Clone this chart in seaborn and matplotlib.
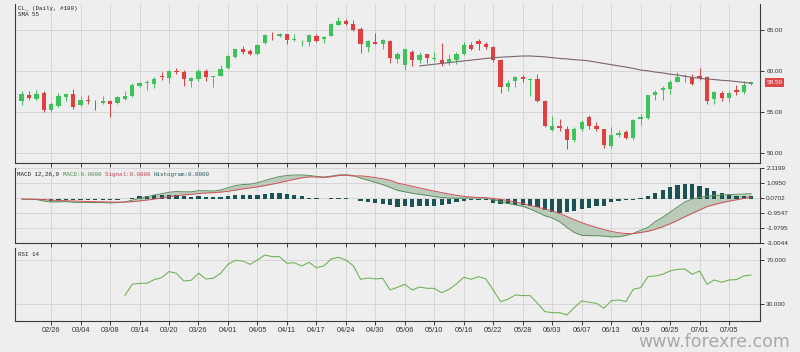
import seaborn as sns
import matplotlib.pyplot as plt
import numpy as np
import pandas as pd

# 1. DATA (one bar per trading day, 100 bars)
tick_dates = ['02/26', '03/04', '03/08', '03/14', '03/20', '03/26', '04/01', '04/05',
              '04/11', '04/17', '04/24', '04/30', '05/06', '05/10', '05/16', '05/22',
              '05/28', '06/03', '06/07', '06/13', '06/19', '06/25', '07/01', '07/05']

opens = [56.3, 57.1, 56.6, 57.3, 55.3, 55.8, 56.8, 57.2, 55.9, 56.5,
         56.4, 56.1, 56.4, 56.1, 56.6, 56.9, 58.2, 58.5, 58.4, 59.4,
         59.1, 60.0, 59.9, 58.8, 59.0, 60.0, 59.3, 59.4, 60.3, 61.7,
         62.6, 62.4, 62.0, 63.4, 64.4, 64.2, 64.5, 63.7, 63.6, 63.5,
         64.2, 63.8, 64.2, 65.6, 66.1, 65.7, 65.1, 62.9, 63.5, 63.3,
         63.6, 61.4, 60.7, 62.3, 61.3, 62.0, 61.4, 61.3, 60.9, 61.3,
         62.0, 63.1, 63.6, 63.3, 62.9, 61.3, 58.1, 58.8, 59.2, 58.9,
         59.0, 56.4, 52.8, 53.3, 52.9, 51.6, 52.9, 54.4, 53.3, 53.0,
         50.9, 52.2, 52.6, 51.9, 54.2, 54.3, 57.1, 57.7, 57.8, 58.7,
         59.2, 59.3, 59.4, 59.2, 56.6, 57.3, 56.7, 57.7, 57.4, 58.4]
highs = [57.6, 57.6, 57.7, 57.6, 56.2, 57.3, 57.3, 57.8, 57.0, 57.1,
         56.5, 56.9, 56.5, 56.9, 57.5, 58.5, 58.7, 58.9, 59.2, 59.8,
         60.1, 60.3, 60.1, 59.3, 60.2, 60.2, 59.4, 60.7, 61.9, 62.7,
         63.0, 62.7, 63.3, 64.5, 64.7, 64.6, 64.5, 64.5, 63.7, 64.5,
         64.5, 64.2, 65.8, 66.5, 66.3, 66.2, 65.3, 63.7, 64.6, 63.8,
         63.7, 62.3, 62.7, 62.5, 62.3, 62.1, 62.3, 63.4, 62.1, 62.3,
         63.5, 63.5, 63.9, 63.5, 63.0, 61.4, 58.9, 59.4, 59.5, 59.1,
         59.6, 56.5, 54.5, 54.2, 53.3, 53.2, 54.1, 54.6, 53.8, 53.0,
         53.2, 52.8, 52.8, 54.2, 54.8, 57.1, 57.7, 58.2, 58.9, 59.9,
         59.6, 59.6, 60.3, 59.4, 57.5, 57.5, 57.6, 58.3, 58.8, 58.8]
lows = [55.9, 56.5, 56.5, 55.0, 55.0, 55.6, 56.4, 55.4, 55.7, 56.0,
        55.3, 56.0, 54.4, 56.0, 56.5, 56.8, 58.0, 57.7, 57.9, 58.9,
        58.5, 59.6, 58.2, 58.1, 58.8, 58.8, 58.1, 59.4, 60.2, 61.5,
        62.0, 61.9, 61.9, 63.2, 63.7, 64.1, 63.2, 63.6, 63.0, 63.0,
        63.5, 63.4, 64.2, 65.5, 65.6, 64.8, 62.2, 62.3, 63.2, 62.7,
        60.9, 61.0, 60.1, 60.6, 60.9, 60.9, 61.2, 60.6, 60.7, 60.8,
        61.9, 62.5, 62.5, 62.7, 61.1, 57.3, 57.5, 58.1, 58.7, 56.9,
        56.2, 53.2, 52.7, 52.7, 50.5, 51.4, 52.7, 52.9, 52.7, 50.7,
        50.7, 52.0, 51.7, 51.6, 53.4, 54.2, 56.5, 56.5, 57.2, 58.6,
        58.6, 58.3, 58.9, 56.0, 56.0, 56.4, 56.2, 57.1, 57.2, 58.3]
closes = [57.2, 56.7, 57.2, 55.2, 56.0, 56.9, 57.2, 55.6, 56.5, 56.3,
          56.3, 56.4, 56.0, 56.8, 57.0, 58.3, 58.5, 58.6, 59.0, 59.2,
          60.0, 59.8, 59.0, 59.1, 60.0, 59.2, 59.4, 60.2, 61.8, 62.6,
          62.3, 62.1, 63.1, 64.4, 64.3, 64.5, 63.7, 63.9, 63.65, 64.3,
          63.6, 64.1, 65.7, 66.1, 65.7, 65.0, 63.3, 63.6, 63.3, 63.7,
          61.5, 62.0, 62.6, 61.3, 61.9, 61.5, 61.5, 60.8, 61.4, 62.1,
          63.1, 62.7, 63.3, 62.9, 61.3, 58.1, 58.5, 59.2, 59.0, 59.0,
          56.3, 53.3, 53.3, 53.1, 51.6, 53.0, 53.8, 53.3, 52.9, 51.0,
          52.2, 52.5, 51.9, 54.0, 54.4, 57.1, 57.4, 57.9, 58.7, 59.2,
          59.4, 58.4, 59.1, 56.3, 57.4, 56.7, 57.3, 57.4, 58.3, 58.59]

# SMA 55, defined from bar 54 onwards
sma55 = [60.6, 60.7, 60.8, 60.9, 61.0, 61.1, 61.2, 61.3, 61.4, 61.5,
         61.6, 61.65, 61.7, 61.75, 61.8, 61.8, 61.75, 61.7, 61.6, 61.5,
         61.45, 61.35, 61.3, 61.2, 61.05, 60.9, 60.75, 60.6, 60.45, 60.3,
         60.1, 60.0, 59.85, 59.75, 59.6, 59.5, 59.35, 59.2, 59.1, 59.0,
         58.95, 58.85, 58.8, 58.7, 58.6, 58.5]

macd = [0.0, -0.02, -0.03, -0.13, -0.2, -0.19, -0.17, -0.22, -0.23, -0.23,
        -0.24, -0.24, -0.26, -0.24, -0.2, -0.08, 0.05, 0.15, 0.28, 0.37,
        0.47, 0.52, 0.5, 0.5, 0.58, 0.57, 0.55, 0.62, 0.78, 0.93,
        1.0, 1.03, 1.12, 1.28, 1.42, 1.55, 1.62, 1.66, 1.66, 1.63,
        1.56, 1.52, 1.58, 1.66, 1.68, 1.62, 1.45, 1.3, 1.15, 1.0,
        0.8, 0.6, 0.5, 0.4, 0.33, 0.25, 0.18, 0.1, 0.07, 0.05,
        0.06, 0.07, 0.08, 0.07, -0.05, -0.18, -0.3, -0.4, -0.5, -0.68,
        -0.9, -1.15, -1.3, -1.55, -1.95, -2.3, -2.5, -2.52, -2.52, -2.55,
        -2.6, -2.6, -2.5, -2.36, -2.15, -1.95, -1.55, -1.25, -0.9, -0.55,
        -0.2, 0.0, 0.12, 0.2, 0.25, 0.28, 0.31, 0.33, 0.35, 0.38]
signal = [0.0, -0.005, -0.01, -0.04, -0.07, -0.1, -0.11, -0.13, -0.15, -0.17,
          -0.18, -0.19, -0.2, -0.21, -0.21, -0.18, -0.13, -0.07, 0.0, 0.08,
          0.16, 0.23, 0.29, 0.33, 0.38, 0.42, 0.44, 0.48, 0.54, 0.62,
          0.7, 0.77, 0.84, 0.93, 1.03, 1.13, 1.25, 1.36, 1.46, 1.53,
          1.52, 1.49, 1.54, 1.62, 1.64, 1.59, 1.6, 1.55, 1.48, 1.4,
          1.3, 1.1, 1.0, 0.88, 0.77, 0.65, 0.55, 0.45, 0.35, 0.26,
          0.19, 0.14, 0.11, 0.09, 0.05, -0.02, -0.1, -0.2, -0.3, -0.45,
          -0.55, -0.68, -0.82, -1.0, -1.2, -1.42, -1.62, -1.8, -1.95, -2.1,
          -2.22, -2.32, -2.37, -2.38, -2.3, -2.22, -2.08, -1.9, -1.7, -1.47,
          -1.22, -0.98, -0.75, -0.52, -0.38, -0.25, -0.14, -0.05, 0.05, 0.12]
hist = [0.0, -0.02, -0.03, -0.09, -0.13, -0.09, -0.06, -0.08, -0.07, -0.06,
        -0.06, -0.05, -0.06, -0.04, 0.03, 0.1, 0.18, 0.22, 0.28, 0.29,
        0.31, 0.29, 0.21, 0.17, 0.2, 0.15, 0.11, 0.14, 0.2, 0.27,
        0.3, 0.27, 0.3, 0.37, 0.39, 0.4, 0.37, 0.3, 0.2, 0.1,
        0.04, 0.03, 0.04, 0.04, 0.04, 0.03, -0.12, -0.18, -0.3, -0.35,
        -0.43, -0.52, -0.5, -0.52, -0.5, -0.48, -0.45, -0.42, -0.32, -0.22,
        -0.12, -0.07, -0.04, -0.03, -0.3, -0.35, -0.35, -0.38, -0.42, -0.45,
        -0.55, -0.75, -0.9, -0.95, -0.92, -0.8, -0.7, -0.6, -0.5, -0.45,
        -0.2, -0.12, -0.07, -0.03, 0.06, 0.2, 0.4, 0.6, 0.8, 0.95,
        1.05, 1.02, 0.92, 0.75, 0.55, 0.4, 0.28, 0.22, 0.2, 0.22]

# RSI 14, defined from bar 14 onwards
rsi14 = [37.8, 47.9, 48.8, 48.8, 52.1, 53.9, 59.3, 57.8, 50.9, 51.5,
         57.8, 52.7, 53.3, 57.8, 65.8, 69.4, 68.8, 65.8, 69.7, 74.2,
         72.7, 72.7, 66.7, 67.3, 64.3, 67.6, 62.8, 64.3, 70.6, 72.1,
         69.7, 64.6, 52.4, 53.6, 52.7, 53.3, 42.8, 45.2,
         47.9, 42.8, 45.5, 44.3, 44.3, 40.4, 43.4, 48.2, 54.2, 52.4,
         54.8, 52.7, 42.8, 32.4, 34.5, 38.4, 37.8, 37.8, 30.9, 23.4,
         22.5, 22.5, 20.4, 27.0, 33.0, 31.8, 30.9, 26.4, 33.0, 33.9,
         32.4, 43.4, 44.9, 54.8, 55.4, 56.9, 59.9, 61.3, 61.6, 56.9,
         59.9, 47.9, 51.8, 49.7, 51.8, 52.1, 55.4, 56.3]

price_ticks = [50, 55, 60, 65]
macd_ticks = [2.1199, 1.0950, 0.0702, -0.9547, -1.9795, -3.0044]
rsi_ticks = [30, 70]

bars = np.arange(len(closes))
df = pd.DataFrame({'open': opens, 'high': highs, 'low': lows, 'close': closes}, index=bars)

# 2. STYLE
sns.set_theme(style="whitegrid")
plt.rcParams['font.family'] = ['Liberation Sans', 'DejaVu Sans']
BG = '#eeeeee'
GRID = '#d6d6d6'
SPINE = '#3a3a3a'
UP = '#3fc25a'
DOWN = '#e2403f'
MONO = 'Liberation Mono'

fig = plt.figure(figsize=(8, 3.52), dpi=100, facecolor=BG)
ax_p = fig.add_axes([0.01875, 0.5369, 0.93125, 0.4517])
ax_m = fig.add_axes([0.01875, 0.3105, 0.93125, 0.2114])
ax_r = fig.add_axes([0.01875, 0.0881, 0.93125, 0.2065])
xticks = list(range(4, 100, 4))

for ax in (ax_p, ax_m, ax_r):
    ax.set_facecolor(BG)
    ax.set_xlim(-0.9, 100.2)
    ax.grid(True, color=GRID, linewidth=0.7)
    ax.set_axisbelow(True)
    for s in ('left', 'bottom', 'right'):
        ax.spines[s].set_visible(True)
        ax.spines[s].set_color(SPINE)
        ax.spines[s].set_linewidth(0.8)
    ax.spines['top'].set_visible(False)
    ax.yaxis.tick_right()
    ax.set_xticks(xticks)
    ax.tick_params(axis='both', direction='out', length=3, width=0.7, color=SPINE,
                   labelsize=4.6, labelcolor='#333333', pad=1.5)
    ax.tick_params(axis='x', bottom=True, labelbottom=False)
    ax.tick_params(axis='y', right=True, left=False)

# 3. PRICE PANEL (candles + SMA 55)
up = df['close'] >= df['open']
colors = np.where(up, UP, DOWN)
body_lo = df[['open', 'close']].min(axis=1)
body_h = (df['close'] - df['open']).abs().clip(lower=0.07)
ax_p.vlines(bars, df['low'], df['high'], colors=colors, linewidth=0.7, zorder=2)
ax_p.bar(bars, body_h, bottom=body_lo, width=0.58, color=colors, linewidth=0, zorder=3)
sns.lineplot(x=bars[54:], y=sma55, ax=ax_p, color='#7b6570', linewidth=0.8, zorder=4)
ax_p.set_ylim(48.83, 68.1)
ax_p.set_yticks(price_ticks)
ax_p.set_yticklabels([f'{v:.2f}' for v in price_ticks])
ax_p.text(1.0085, closes[-1], f'{closes[-1]:.2f}', transform=ax_p.get_yaxis_transform(),
          fontsize=4.6, color='white', va='center', ha='left',
          bbox=dict(boxstyle='square,pad=0.25', fc='#e04848', ec='none'))
ax_p.text(0.004, 0.972, 'CL_ (Daily, #100)', transform=ax_p.transAxes,
          fontsize=4.2, family=MONO, color='#222222', va='center')
ax_p.text(0.004, 0.931, 'SMA 55', transform=ax_p.transAxes,
          fontsize=4.2, family=MONO, color='#222222', va='center')

# 4. MACD PANEL
ax_m.fill_between(bars, macd, signal, color='#b8cab8', alpha=0.95, linewidth=0, zorder=2)
ax_m.bar(bars, hist, width=0.58, color='#1b5253', linewidth=0, zorder=3)
sns.lineplot(x=bars, y=macd, ax=ax_m, color='#5c8f5c', linewidth=0.7, zorder=4)
sns.lineplot(x=bars, y=signal, ax=ax_m, color='#d4505a', linewidth=0.7, zorder=4)
ax_m.set_ylim(-3.0044, 2.1199)
ax_m.set_yticks(macd_ticks)
ax_m.set_yticklabels([f'{v:.4f}' for v in macd_ticks])
segments = [('MACD 12,26,9 ', '#222222'), ('MACD:0.0000 ', '#4f8a4f'),
            ('Signal:0.0000 ', '#d0405a'), ('Histogram:0.0000', '#24585a')]
fs = 4.2
n = 0
for txt, col in segments:
    ax_m.annotate(txt, xy=(0.003, 0.919), xycoords='axes fraction',
                  xytext=(n * 0.6 * fs, 0), textcoords='offset points',
                  fontsize=fs, family=MONO, color=col, va='center', ha='left')
    n += len(txt)

# 5. RSI PANEL
sns.lineplot(x=bars[14:], y=rsi14, ax=ax_r, color='#6db052', linewidth=0.75, zorder=4)
ax_r.set_ylim(15.0, 80.2)
ax_r.set_yticks(rsi_ticks)
ax_r.set_yticklabels([f'{v:.3f}' for v in rsi_ticks])
ax_r.tick_params(axis='x', labelbottom=True, labelsize=5.3, pad=1.0)
ax_r.set_xticklabels(tick_dates)
ax_r.text(0.004, 0.908, 'RSI 14', transform=ax_r.transAxes,
          fontsize=4.2, family=MONO, color='#222222', va='center')

for ax in (ax_p, ax_m, ax_r):
    ax.set_xlabel('')
    ax.set_ylabel('')

# watermark
fig.text(0.9875, 0.013, 'www.forexre.com', fontsize=12.5, color='#a9a9a9',
         ha='right', va='baseline', family='DejaVu Sans')

fig.savefig('out.png', dpi=100, facecolor=BG)
